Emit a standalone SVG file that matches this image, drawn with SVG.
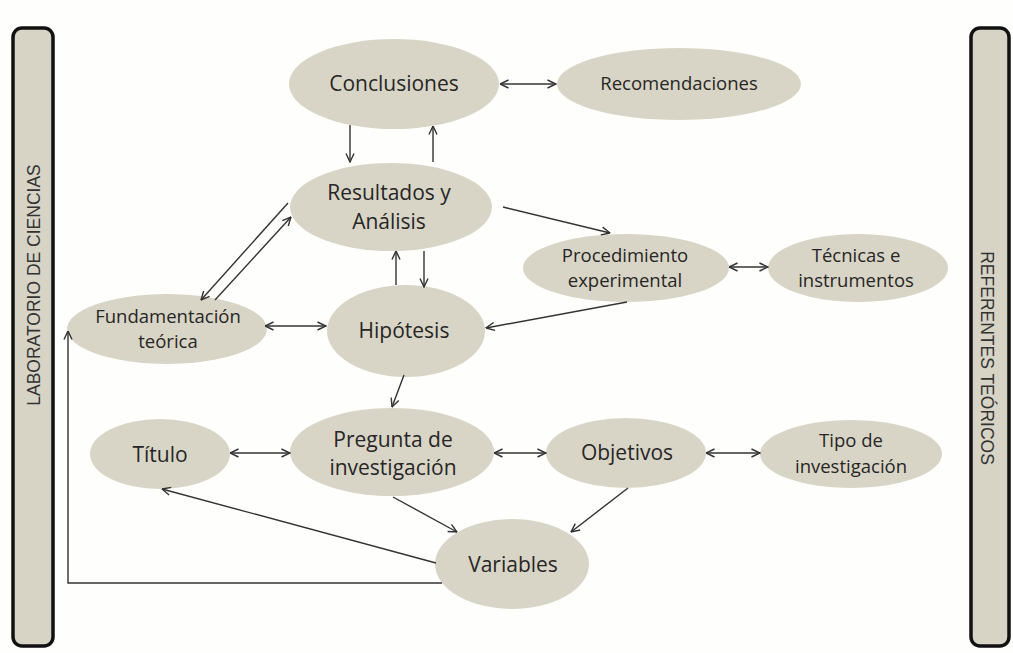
<svg xmlns="http://www.w3.org/2000/svg" width="1013" height="653" viewBox="0 0 1013 653">
<style>
.n{fill:#d9d5c6;}
.t{font-family:"Open Sans","Noto Sans",sans-serif;fill:#262626;text-anchor:middle;}
.b{font-size:21px;}
.s{font-size:18.5px;}
.c{stroke:#333;stroke-width:1.4;fill:none;}
.bar{fill:#d7d4c6;stroke:#111;stroke-width:3.5;}
.bt{font-family:"Liberation Sans",Arial,sans-serif;font-size:17.5px;fill:#333;text-anchor:middle;}
</style>
<defs>
<marker id="a" viewBox="0 0 10 10" refX="9.5" refY="5" markerWidth="10" markerHeight="10" markerUnits="userSpaceOnUse" orient="auto-start-reverse">
<path d="M1,1 L9.5,5 L1,9" fill="none" stroke="#333" stroke-width="1.4"/>
</marker>
</defs>
<rect width="1013" height="653" fill="#fefefd"/>
<g id="bar-left">
<rect class="bar" x="13" y="28" width="40" height="618" rx="9"/>
<text class="bt" transform="translate(39.5,285) rotate(-90)">LABORATORIO DE CIENCIAS</text>
</g>
<g id="bar-right">
<rect class="bar" x="971" y="28" width="38" height="618" rx="9"/>
<text class="bt" transform="translate(981,358) rotate(90)">REFERENTES TEÓRICOS</text>
</g>
<g id="conclusiones"><ellipse class="n" cx="394" cy="84" rx="105" ry="45"/><text class="t b" x="394" y="91">Conclusiones</text></g>
<g id="recomendaciones"><ellipse class="n" cx="679" cy="84" rx="122" ry="36"/><text class="t s" x="679" y="90">Recomendaciones</text></g>
<g id="resultados"><ellipse class="n" cx="391" cy="207" rx="101" ry="44"/><text class="t b" x="389" y="200">Resultados y</text><text class="t b" x="389" y="229">Análisis</text></g>
<g id="procedimiento"><ellipse class="n" cx="626" cy="268" rx="103" ry="34"/><text class="t s" x="625" y="262">Procedimiento</text><text class="t s" x="625" y="287">experimental</text></g>
<g id="tecnicas"><ellipse class="n" cx="858" cy="268" rx="90" ry="34"/><text class="t s" x="856" y="262">Técnicas e</text><text class="t s" x="856" y="287">instrumentos</text></g>
<g id="fundamentacion"><ellipse class="n" cx="167" cy="329" rx="100" ry="35"/><text class="t s" x="168" y="323">Fundamentación</text><text class="t s" x="168" y="348">teórica</text></g>
<g id="hipotesis"><ellipse class="n" cx="406" cy="331" rx="79" ry="46"/><text class="t b" x="404" y="338">Hipótesis</text></g>
<g id="titulo"><ellipse class="n" cx="160" cy="454" rx="70" ry="35"/><text class="t b" x="160" y="462">Título</text></g>
<g id="pregunta"><ellipse class="n" cx="392" cy="452" rx="102" ry="44"/><text class="t b" x="393" y="447">Pregunta de</text><text class="t b" x="393" y="475">investigación</text></g>
<g id="objetivos"><ellipse class="n" cx="626" cy="453" rx="80" ry="35"/><text class="t b" x="627" y="460">Objetivos</text></g>
<g id="tipo"><ellipse class="n" cx="851" cy="454" rx="91" ry="34"/><text class="t s" x="851" y="447">Tipo de</text><text class="t s" x="851" y="473">investigación</text></g>
<g id="variables"><ellipse class="n" cx="512" cy="564" rx="77" ry="45"/><text class="t b" x="513" y="572">Variables</text></g>
<g id="connectors">
<line class="c" x1="500" y1="84" x2="556" y2="84" marker-start="url(#a)" marker-end="url(#a)"/>
<line class="c" x1="350" y1="125" x2="350" y2="162" marker-end="url(#a)"/>
<line class="c" x1="433" y1="162" x2="433" y2="126" marker-end="url(#a)"/>
<line class="c" x1="503" y1="207" x2="610" y2="233" marker-end="url(#a)"/>
<line class="c" x1="288" y1="203" x2="201" y2="300" marker-end="url(#a)"/>
<line class="c" x1="215" y1="300" x2="291" y2="217" marker-end="url(#a)"/>
<line class="c" x1="396" y1="285" x2="396" y2="251" marker-end="url(#a)"/>
<line class="c" x1="424" y1="251" x2="424" y2="287" marker-end="url(#a)"/>
<line class="c" x1="265" y1="326" x2="326" y2="326" marker-start="url(#a)" marker-end="url(#a)"/>
<line class="c" x1="627" y1="302" x2="486" y2="328" marker-end="url(#a)"/>
<line class="c" x1="729" y1="267" x2="768" y2="267" marker-start="url(#a)" marker-end="url(#a)"/>
<line class="c" x1="404" y1="375" x2="392" y2="407" marker-end="url(#a)"/>
<line class="c" x1="230" y1="453" x2="290" y2="453" marker-start="url(#a)" marker-end="url(#a)"/>
<line class="c" x1="494" y1="453" x2="546" y2="453" marker-start="url(#a)" marker-end="url(#a)"/>
<line class="c" x1="706" y1="453" x2="760" y2="453" marker-start="url(#a)" marker-end="url(#a)"/>
<line class="c" x1="393" y1="497" x2="457" y2="532" marker-end="url(#a)"/>
<line class="c" x1="628" y1="488" x2="571" y2="532" marker-end="url(#a)"/>
<line class="c" x1="436" y1="563" x2="162" y2="489" marker-end="url(#a)"/>
<polyline class="c" points="442,583 68,583 68,331" marker-end="url(#a)"/>
</g>
</svg>
